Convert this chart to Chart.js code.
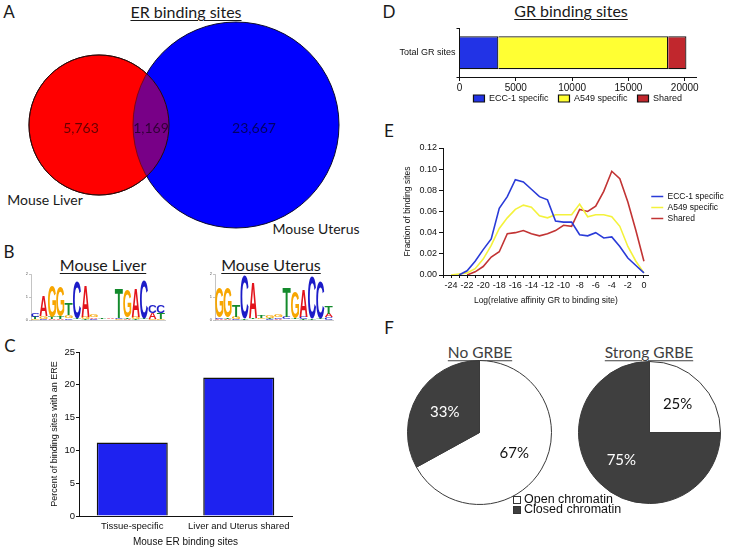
<!DOCTYPE html>
<html>
<head>
<meta charset="utf-8">
<script src="https://cdn.jsdelivr.net/npm/chart.js@4.4.1/dist/chart.umd.min.js"></script>
<style>
    body { margin: 0; background: #fff; }
    #figura { position: relative; width: 732px; height: 552px; overflow: hidden; font-family: Lato, sans-serif; color: #1a1a1a; }
    #figura canvas { position: absolute; }
    .t { position: absolute; transform: translate(-50%, -50%); white-space: nowrap; line-height: 1; }
    .letra { font-size: 17px; }
    .sub { text-decoration: underline; text-decoration-thickness: 1px; text-underline-offset: 2px; }
    .leyF { position: absolute; left: 513px; font-family: Arial, "Liberation Sans", sans-serif; font-size: 12.5px; line-height: 10px; color: #111; }
    .leyF span { display: inline-block; width: 8px; height: 8px; border: 1px solid #333; margin-right: 3px; vertical-align: -1px; box-sizing: border-box; }
</style>
</head>
<body>
<div id="figura">
    <!-- Letras de panel y títulos -->
    <div class="t letra" style="left:9px; top:11px">A</div>
    <div class="t letra" style="left:9px; top:251px">B</div>
    <div class="t letra" style="left:10px; top:345px">C</div>
    <div class="t letra" style="left:389px; top:11px">D</div>
    <div class="t letra" style="left:389px; top:130px">E</div>
    <div class="t letra" style="left:389px; top:327px">F</div>

    <div class="t sub" style="left:186px; top:12px; font-size:16px">ER binding sites</div>
    <div class="t sub" style="left:571px; top:11px; font-size:16px">GR binding sites</div>
    <div class="t sub" style="left:103px; top:265px; font-size:16px">Mouse Liver</div>
    <div class="t sub" style="left:271px; top:265px; font-size:16px">Mouse Uterus</div>
    <div class="t sub" style="left:480px; top:353px; font-size:15.5px; color:#404040">No GRBE</div>
    <div class="t sub" style="left:649px; top:353px; font-size:15.5px; color:#404040">Strong GRBE</div>

    <div class="t" style="left:45px; top:200px; font-size:14px">Mouse Liver</div>
    <div class="t" style="left:316px; top:229px; font-size:14px">Mouse Uterus</div>

    <canvas id="grafVenn" width="366" height="225" style="left:0; top:20px"></canvas>
    <canvas id="grafHigado" width="162" height="62" style="left:18px; top:266px"></canvas>
    <canvas id="grafUtero" width="150" height="62" style="left:200px; top:266px"></canvas>
    <canvas id="grafC" width="366" height="212" style="left:0; top:340px"></canvas>
    <canvas id="grafD" width="366" height="100" style="left:366px; top:22px"></canvas>
    <canvas id="grafE" width="366" height="175" style="left:366px; top:135px"></canvas>
    <canvas id="grafPastel1" width="145" height="145" style="left:407px; top:360px"></canvas>
    <canvas id="grafPastel2" width="143" height="143" style="left:578px; top:361px"></canvas>

    <div class="leyF" style="top:494px"><span style="background:#fff"></span>Open chromatin</div>
    <div class="leyF" style="top:504px"><span style="background:#3f3f3f"></span>Closed chromatin</div>
</div>

<script>
// ---- Datos ----

// A: sitios de unión de ER (Venn)
const vennSoloHigado = 5763;
const vennCompartidos = 1169;
const vennSoloUtero = 23667;

// B: logos de motivo, tres capas por posición (abajo, medio, arriba)
const higadoLetras1 = ['G','C','A','A','C','A','T','C','G','C','G','A','T','A','G','G'];
const higadoBits1   = [0.06,0.06,0.05,0.05,0.08,0.03,0.05,0.05,0.02,0.02,0.04,0.04,0.05,0.03,0.05,0.05];
const higadoLetras2 = ['T','G','T','T','G','T','G','A','A','G','C','T','G','T','A','T'];
const higadoBits2   = [0.08,0.10,0.08,0.10,0.12,0.05,0.08,0.06,0.02,0.02,0.06,0.06,0.10,0.05,0.25,0.25];
const higadoLetras3 = ['C','A','G','G','T','C','A','G','T','A','T','G','A','C','C','C'];
const higadoBits3   = [0.18,0.90,1.35,1.30,0.48,1.60,1.35,0.12,0.03,0.03,1.30,1.20,1.25,1.65,0.35,0.35];

const uteroLetras1 = ['A','A','C','A','G','A','C','A','A','A','T','A','G','C'];
const uteroBits1   = [0.05,0.05,0.05,0.02,0.03,0.03,0.04,0.05,0.03,0.03,0.04,0.02,0.03,0.12];
const uteroLetras2 = ['C','T','G','T','T','G','T','C','C','T','C','T','T','A'];
const uteroBits2   = [0.05,0.05,0.08,0.03,0.05,0.04,0.04,0.06,0.10,0.06,0.10,0.03,0.05,0.15];
const uteroLetras3 = ['G','G','T','C','A','T','G','G','T','G','A','C','C','T'];
const uteroBits3   = [1.30,1.30,0.50,1.90,1.50,0.08,0.10,0.12,1.30,1.15,1.20,1.80,1.60,0.32];

// C: porcentaje con ERE
const ereCategorias = ['Tissue-specific', 'Liver and Uterus shared'];
const erePorcentaje = [11.2, 21.1];

// D: sitios de unión de GR
const grCategorias = ['Total GR sites'];
const grEcc1 = [3450];
const grA549 = [15080];
const grCompartidos = [1620];
const grTicks = [0, 5000, 10000, 15000, 20000];

// E: fracción de sitios según afinidad
const afinidadX = [-24,-23,-22,-21,-20,-19,-18,-17,-16,-15,-14,-13,-12,-11,-10,-9,-8,-7,-6,-5,-4,-3,-2,-1,0];
const fraccionEcc1 = [null,0.000,0.004,0.013,0.024,0.034,0.063,0.074,0.090,0.088,0.081,0.074,0.071,0.051,0.050,0.050,0.038,0.037,0.040,0.035,0.036,0.027,0.016,0.009,0.002];
const fraccionA549 = [0.000,0.001,0.002,0.006,0.015,0.028,0.044,0.054,0.062,0.066,0.064,0.056,0.054,0.057,0.057,0.057,0.067,0.055,0.057,0.057,0.055,0.046,0.027,0.013,0.002];
const fraccionCompartidos = [null,null,0.000,0.003,0.008,0.017,0.022,0.039,0.040,0.042,0.039,0.037,0.039,0.042,0.047,0.046,0.062,0.060,0.065,0.079,0.098,0.091,0.069,0.042,0.013];

// F: cromatina abierta / cerrada
const cromatinaEtiquetas = ['Open chromatin', 'Closed chromatin'];
const sinGrbe = [67, 33];
const grbeFuerte = [25, 75];

// ---- Estilo común ----
const fuentePrism = 'Arial, "Liberation Sans", sans-serif';
const negro = '#111';
Chart.defaults.font.family = fuentePrism;
Chart.defaults.color = negro;

function ejePrism(extra) {
    return Object.assign({
        grid: { drawOnChartArea: false, color: negro, tickLength: 4, lineWidth: 1 },
        border: { color: negro, width: 1 }
    }, extra);
}

// Mueve la leyenda unos píxeles en vertical después del layout
const pluginMoverLeyenda = {
    id: 'moverLeyenda',
    afterLayout(chart, args, opts) {
        const ley = chart.legend;
        if (!ley || !opts.dy) return;
        ley.top += opts.dy;
        ley.bottom += opts.dy;
    }
};

// ---- A: Venn con burbujas ----
// disposición del diagrama (no son datos): centros y radios en píxeles
const vennCentroY = 105;
const vennHigado = { x: 99, r: 70 };
const vennUtero = { x: 236, r: 103 };

const pluginVennTexto = {
    id: 'vennTexto',
    afterDatasetsDraw(chart) {
        const { ctx, scales: { x, y } } = chart;
        const bordeIzq = vennUtero.x - vennUtero.r;
        const bordeDer = vennHigado.x + vennHigado.r;
        const items = [
            { texto: vennSoloHigado.toLocaleString('en-US'), x: (vennHigado.x - vennHigado.r + bordeIzq) / 2 },
            { texto: vennCompartidos.toLocaleString('en-US'), x: (bordeIzq + bordeDer) / 2 },
            { texto: vennSoloUtero.toLocaleString('en-US'), x: (bordeDer + vennUtero.x + vennUtero.r) / 2 }
        ];
        ctx.save();
        ctx.font = '14px Lato';
        ctx.textAlign = 'center';
        ctx.textBaseline = 'middle';
        ctx.fillStyle = 'rgba(0, 0, 0, 0.6)';
        items.forEach(it => ctx.fillText(it.texto, x.getPixelForValue(it.x), y.getPixelForValue(vennCentroY + 3)));
        ctx.restore();
    }
};

new Chart(document.getElementById('grafVenn'), {
    type: 'bubble',
    data: {
        datasets: [
            { label: 'shared', data: [{ x: vennHigado.x, y: vennCentroY, r: vennHigado.r }], backgroundColor: 'rgba(255, 0, 0, 0.47)', borderColor: '#2a0a0a', borderWidth: 1, order: 0 },
            { label: 'Mouse Uterus', data: [{ x: vennUtero.x, y: vennCentroY, r: vennUtero.r }], backgroundColor: '#0000ff', borderColor: '#0a0a2a', borderWidth: 1, order: 1 },
            { label: 'Mouse Liver', data: [{ x: vennHigado.x, y: vennCentroY, r: vennHigado.r }], backgroundColor: '#ff0000', borderColor: '#2a0a0a', borderWidth: 1, order: 2 }
        ].map(d => Object.assign(d, { clip: false }))
    },
    options: {
        responsive: false, animation: false, events: [],
        layout: { padding: 0, autoPadding: false },
        scales: {
            x: { display: false, min: 0, max: 366 },
            y: { display: false, min: 0, max: 225, reverse: true }
        },
        plugins: { legend: { display: false }, tooltip: { enabled: false } }
    },
    plugins: [pluginVennTexto]
});

// ---- B: logos ----
const coloresLetra = { A: '#e3141c', C: '#1c1cc8', G: '#f7a600', T: '#138a2c' };

const pluginLogo = {
    id: 'logo',
    afterDatasetsDraw(chart) {
        const ctx = chart.ctx;
        ctx.save();
        ctx.font = 'bold 100px Arial, "Liberation Sans", sans-serif';
        ctx.textAlign = 'left';
        ctx.textBaseline = 'alphabetic';
        chart.data.datasets.forEach((ds, i) => {
            chart.getDatasetMeta(i).data.forEach((barra, j) => {
                const letra = ds.letras[j];
                const { x, y, base, width } = barra.getProps(['x', 'y', 'base', 'width'], true);
                const alto = base - y;
                if (!letra || alto < 0.3) return;
                const m = ctx.measureText(letra);
                const gw = m.actualBoundingBoxLeft + m.actualBoundingBoxRight;
                const gh = m.actualBoundingBoxAscent + m.actualBoundingBoxDescent;
                ctx.save();
                ctx.translate(x - width / 2, y);
                ctx.scale(width / gw, alto / gh);
                ctx.fillStyle = coloresLetra[letra];
                ctx.fillText(letra, m.actualBoundingBoxLeft, m.actualBoundingBoxAscent);
                ctx.restore();
            });
        });
        ctx.restore();
    }
};

function crearLogo(id, capas, anchoEje, rellenoDer) {
    const posiciones = capas[0].bits.map((_, i) => String(i + 1));
    new Chart(document.getElementById(id), {
        type: 'bar',
        data: {
            labels: posiciones,
            datasets: capas.map(c => ({
                data: c.bits, letras: c.letras,
                backgroundColor: 'rgba(0,0,0,0)', borderWidth: 0,
                barPercentage: 0.96, categoryPercentage: 1
            }))
        },
        options: {
            responsive: false, animation: false, events: [],
            layout: { padding: { left: 0, right: rellenoDer, top: 8, bottom: 0 } },
            scales: {
                x: ejePrism({
                    stacked: true,
                    grid: { display: false },
                    border: { color: '#999', width: 0.5 },
                    ticks: { font: { size: 3 }, color: '#d44', autoSkip: false, minRotation: 90, maxRotation: 90, padding: 1 },
                    afterFit: s => { s.height = 8; }
                }),
                y: ejePrism({
                    stacked: true, min: 0, max: 2,
                    grid: { drawOnChartArea: false, color: '#888', tickLength: 2, lineWidth: 0.5 },
                    border: { color: '#888', width: 0.5 },
                    ticks: { stepSize: 1, font: { size: 4 }, color: '#555', padding: 1 },
                    afterFit: s => { s.width = anchoEje; }
                })
            },
            plugins: { legend: { display: false }, tooltip: { enabled: false } }
        },
        plugins: [pluginLogo]
    });
}

crearLogo('grafHigado', [
    { letras: higadoLetras1, bits: higadoBits1 },
    { letras: higadoLetras2, bits: higadoBits2 },
    { letras: higadoLetras3, bits: higadoBits3 }
], 13, 15);

crearLogo('grafUtero', [
    { letras: uteroLetras1, bits: uteroBits1 },
    { letras: uteroLetras2, bits: uteroBits2 },
    { letras: uteroLetras3, bits: uteroBits3 }
], 15, 17);

// ---- C: barras de ERE ----
new Chart(document.getElementById('grafC'), {
    type: 'bar',
    data: {
        labels: ereCategorias,
        datasets: [{
            data: erePorcentaje,
            backgroundColor: '#1e22f0', borderColor: '#111', borderWidth: 1.5,
            barPercentage: 0.667, categoryPercentage: 1
        }]
    },
    options: {
        responsive: false, animation: false, events: [],
        layout: { padding: { left: 45, right: 74, top: 12, bottom: 0 } },
        scales: {
            x: ejePrism({
                grid: { drawOnChartArea: false, drawTicks: false, color: negro },
                ticks: { font: { size: 9.5 }, padding: 5, maxRotation: 0 },
                title: { display: true, text: 'Mouse ER binding sites', font: { size: 10 }, padding: { top: 2, bottom: 4 } },
                afterFit: s => { s.height = 36; }
            }),
            y: ejePrism({
                min: 0, max: 25,
                grid: { drawOnChartArea: false, color: negro, tickLength: 3 },
                ticks: { stepSize: 5, font: { size: 9.5 }, padding: 1 },
                title: { display: true, text: 'Percent of binding sites with an ERE', font: { size: 9 } },
                afterFit: s => { s.width = 34; }
            })
        },
        plugins: { legend: { display: false }, tooltip: { enabled: false } }
    }
});

// ---- D: barra apilada horizontal de GR ----
new Chart(document.getElementById('grafD'), {
    type: 'bar',
    data: {
        labels: grCategorias,
        datasets: [
            { label: 'ECC-1 specific', data: grEcc1, backgroundColor: '#2233e6' },
            { label: 'A549 specific', data: grA549, backgroundColor: '#ffff33' },
            { label: 'Shared', data: grCompartidos, backgroundColor: '#c1272d' }
        ].map(d => Object.assign(d, { borderColor: '#111', borderWidth: 1.2, barPercentage: 0.68, categoryPercentage: 1 }))
    },
    options: {
        indexAxis: 'y',
        responsive: false, animation: false, events: [],
        layout: { padding: { left: 0, right: 36, top: 6, bottom: 0 } },
        scales: {
            x: ejePrism({
                stacked: true, min: 0, max: 21000,
                ticks: { font: { size: 10 }, padding: 1, maxRotation: 0, callback: v => String(v) },
                afterBuildTicks: s => { s.ticks = grTicks.map(v => ({ value: v })); },
                afterFit: s => { s.height = 16; }
            }),
            y: ejePrism({
                stacked: true,
                ticks: { font: { size: 9 }, padding: 1 },
                grid: { drawOnChartArea: false, color: negro, tickLength: 3 },
                afterFit: s => { s.width = 93.5; }
            })
        },
        plugins: {
            legend: {
                position: 'bottom', fullSize: false,
                labels: { boxWidth: 11, boxHeight: 7, padding: 10, font: { size: 9 }, color: negro }
            },
            moverLeyenda: { dy: -9 },
            tooltip: { enabled: false }
        }
    },
    plugins: [pluginMoverLeyenda]
});

// ---- E: líneas de afinidad ----
const puntos = serie => afinidadX.map((x, i) => ({ x: x, y: serie[i] }));

new Chart(document.getElementById('grafE'), {
    type: 'line',
    data: {
        datasets: [
            { label: 'ECC-1 specific', data: puntos(fraccionEcc1), borderColor: '#2a3bd8' },
            { label: 'A549 specific', data: puntos(fraccionA549), borderColor: '#f4f23c' },
            { label: 'Shared', data: puntos(fraccionCompartidos), borderColor: '#c23434' }
        ].map(d => Object.assign(d, { borderWidth: 1.6, pointRadius: 0, tension: 0, fill: false, spanGaps: false }))
    },
    options: {
        responsive: false, animation: false, events: [],
        layout: { padding: { left: 33, right: 0, top: 13, bottom: 0 } },
        scales: {
            x: ejePrism({
                type: 'linear', min: -25, max: 0.6,
                grid: { drawOnChartArea: false, color: negro, tickLength: 3 },
                ticks: {
                    stepSize: 1, includeBounds: false, autoSkip: false, maxRotation: 0,
                    font: { size: 9 }, padding: 2,
                    callback: v => (v % 2 === 0 ? String(v) : '')
                },
                title: { display: true, text: 'Log(relative affinity GR to binding site)', font: { size: 8.5 }, padding: { top: 2, bottom: 4 } },
                afterFit: s => { s.height = 35; }
            }),
            y: ejePrism({
                min: 0, max: 0.12,
                ticks: { stepSize: 0.02, font: { size: 9 }, padding: 2, callback: v => v.toFixed(2) },
                title: { display: true, text: 'Fraction of binding sites', font: { size: 8.5 } },
                afterFit: s => { s.width = 44; }
            })
        },
        plugins: {
            legend: {
                position: 'right', fullSize: false,
                labels: { usePointStyle: true, pointStyle: 'line', pointStyleWidth: 12, padding: 2.5, font: { size: 8.5 }, color: negro }
            },
            moverLeyenda: { dy: -4 },
            tooltip: { enabled: false }
        }
    },
    plugins: [pluginMoverLeyenda]
});

// ---- F: pasteles de cromatina ----
const pluginPastelTexto = {
    id: 'pastelTexto',
    afterDatasetsDraw(chart) {
        const ctx = chart.ctx;
        const ds = chart.data.datasets[0];
        chart.getDatasetMeta(0).data.forEach((arco, i) => {
            const { x, y, startAngle, endAngle, outerRadius } = arco.getProps(['x', 'y', 'startAngle', 'endAngle', 'outerRadius'], true);
            const medio = (startAngle + endAngle) / 2;
            const r = outerRadius * 0.56;
            ctx.save();
            ctx.font = '15px Lato';
            ctx.textAlign = 'center';
            ctx.textBaseline = 'middle';
            ctx.fillStyle = ds.colorTexto[i];
            ctx.fillText(ds.data[i] + '%', x + Math.cos(medio) * r, y + Math.sin(medio) * r);
            ctx.restore();
        });
    }
};

function crearPastel(id, valores) {
    new Chart(document.getElementById(id), {
        type: 'pie',
        data: {
            labels: cromatinaEtiquetas,
            datasets: [{
                data: valores,
                backgroundColor: ['#ffffff', '#3f3f3f'],
                colorTexto: ['#111', '#ffffff'],
                borderColor: '#3a3a3a', borderWidth: 1
            }]
        },
        options: {
            responsive: false, animation: false, events: [],
            layout: { padding: 0 },
            plugins: { legend: { display: false }, tooltip: { enabled: false } }
        },
        plugins: [pluginPastelTexto]
    });
}

crearPastel('grafPastel1', sinGrbe);
crearPastel('grafPastel2', grbeFuerte);
</script>
</body>
</html>
